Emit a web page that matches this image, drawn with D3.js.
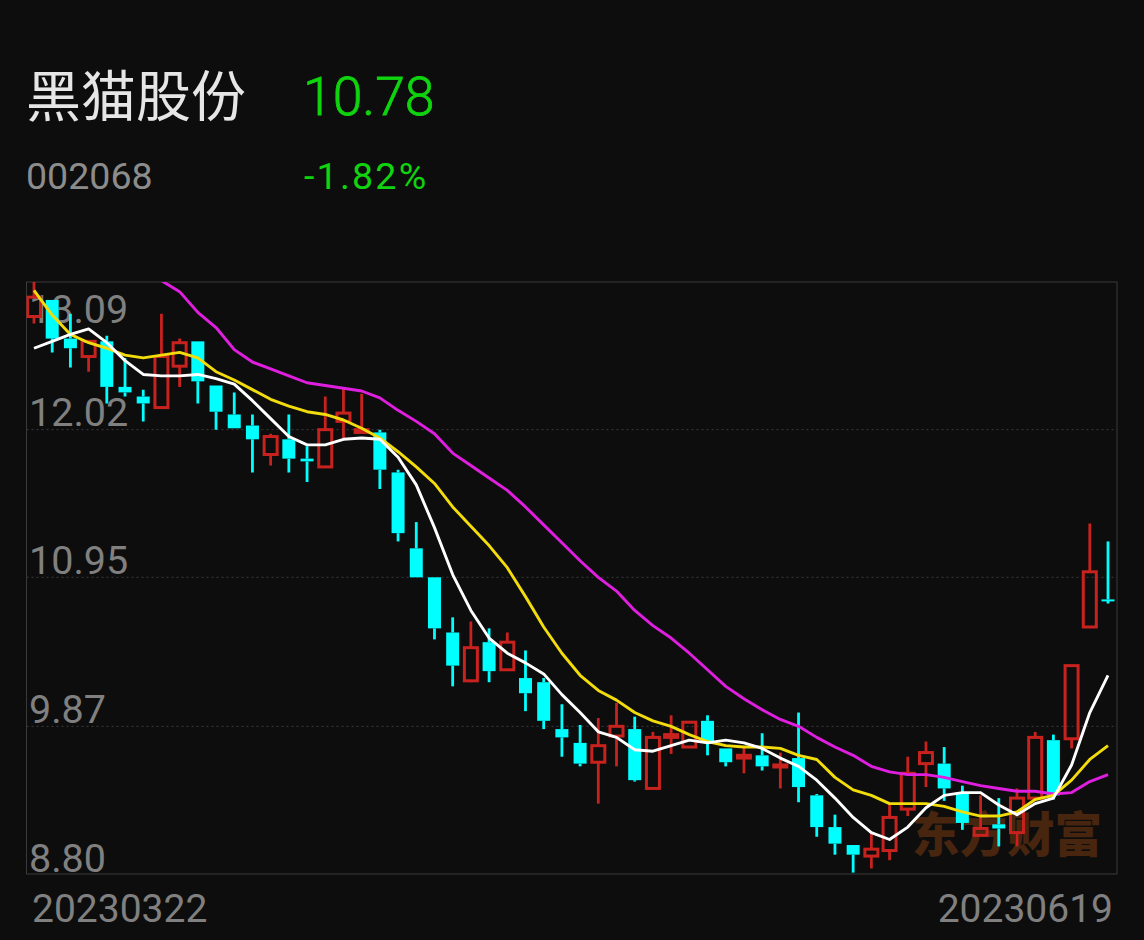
<!DOCTYPE html>
<html>
<head>
<meta charset="utf-8">
<script src="https://cdn.jsdelivr.net/npm/d3@7/dist/d3.min.js"></script>
<style>
html,body{margin:0;padding:0;background:#0d0d0d;}
svg{display:block;}
text{font-family:Roboto,"Noto Sans CJK SC",sans-serif;}
</style>
</head>
<body>
<svg id="c" width="1144" height="940"></svg>
<script>
const stockName = "黑猫股份";
const stockCode = "002068";
const lastPrice = "10.78";
const changePct = "-1.82%";
const watermark = "东方财富";
const priceTicks = [13.09, 12.02, 10.95, 9.87, 8.80];
const gridTicks = [12.02, 10.95, 9.87];
const startDate = "20230322";
const endDate = "20230619";

const open = [12.84,12.96,12.68,12.55,12.66,12.33,12.26,12.18,12.48,12.66,12.34,12.13,12.05,11.84,11.95,11.81,11.75,12.08,12.00,12.00,11.71,11.16,10.95,10.55,10.20,10.48,10.28,10.22,10.19,9.85,9.75,9.61,9.80,9.85,9.42,9.79,9.72,9.91,9.71,9.64,9.66,9.58,9.64,9.37,9.14,9.01,8.93,8.97,9.27,9.60,9.60,9.39,9.08,9.16,9.10,9.35,9.77,9.78,10.59,10.79];
const close = [12.98,12.68,12.61,12.66,12.33,12.29,12.21,12.55,12.65,12.37,12.15,12.03,11.95,11.97,11.81,11.79,12.02,12.14,12.02,11.73,11.27,10.95,10.58,10.31,10.44,10.27,10.48,10.11,9.91,9.79,9.60,9.73,9.87,9.48,9.79,9.81,9.90,9.75,9.61,9.66,9.58,9.59,9.43,9.14,9.02,8.94,8.98,9.21,9.53,9.68,9.42,9.17,9.13,9.13,9.35,9.79,9.37,10.31,10.99,10.78];
const high = [13.14,12.96,12.86,12.66,12.70,12.54,12.31,12.86,12.68,12.66,12.34,12.29,12.13,11.99,12.13,11.90,12.26,12.32,12.28,12.02,11.73,11.35,10.95,10.66,10.63,10.58,10.55,10.42,10.22,10.03,9.88,9.93,10.04,9.94,9.83,9.95,9.90,9.95,9.71,9.72,9.82,9.68,9.97,9.38,9.23,9.01,9.10,9.31,9.65,9.76,9.72,9.44,9.37,9.35,9.42,9.83,9.81,10.31,11.34,11.21];
const low = [12.79,12.58,12.47,12.44,12.21,12.26,12.08,12.18,12.33,12.21,12.02,12.03,11.71,11.76,11.71,11.64,11.75,11.96,12.00,11.59,11.21,10.95,10.50,10.16,10.19,10.19,10.28,9.98,9.85,9.65,9.58,9.31,9.58,9.47,9.42,9.67,9.72,9.66,9.58,9.53,9.55,9.42,9.32,9.07,8.94,8.81,8.84,8.90,9.22,9.43,9.33,9.12,9.08,9.00,9.00,9.35,9.34,9.71,10.59,10.76];
const ma5 = [12.61,12.66,12.71,12.75,12.65,12.52,12.42,12.41,12.41,12.42,12.39,12.35,12.23,12.10,11.97,11.91,11.91,11.95,11.96,11.95,11.82,11.62,11.31,10.97,10.71,10.51,10.40,10.33,10.25,10.10,9.97,9.83,9.79,9.70,9.69,9.73,9.77,9.75,9.77,9.75,9.71,9.64,9.58,9.48,9.35,9.21,9.10,9.05,9.14,9.28,9.37,9.39,9.39,9.30,9.23,9.31,9.35,9.59,9.97,10.24];
const ma10 = [13.03,12.85,12.71,12.65,12.61,12.56,12.54,12.56,12.58,12.54,12.44,12.38,12.31,12.24,12.19,12.15,12.13,12.09,12.03,11.96,11.86,11.75,11.63,11.46,11.32,11.18,11.02,10.81,10.59,10.40,10.24,10.13,10.06,9.97,9.91,9.87,9.81,9.76,9.73,9.72,9.72,9.71,9.66,9.63,9.50,9.41,9.37,9.31,9.31,9.31,9.29,9.25,9.22,9.22,9.25,9.34,9.37,9.48,9.63,9.73];
const ma20 = [null,null,null,null,null,null,13.19,13.10,13.02,12.87,12.76,12.60,12.51,12.46,12.41,12.36,12.34,12.32,12.30,12.25,12.16,12.08,11.99,11.85,11.76,11.67,11.58,11.46,11.33,11.20,11.07,10.95,10.85,10.71,10.60,10.51,10.40,10.28,10.16,10.07,9.99,9.92,9.87,9.79,9.72,9.66,9.58,9.54,9.52,9.52,9.50,9.47,9.44,9.42,9.40,9.40,9.38,9.39,9.47,9.52];

const RED = "#c8221f", CYAN = "#00ffff";
const frame = {l:26.5, r:1117, t:282, b:874};
const svg = d3.select("#c");

const x = d3.scalePoint().domain(d3.range(open.length)).range([34,1108]);
const y = d3.scaleLinear().domain([8.80,13.09]).range([frame.b,frame.t]);

svg.append("rect").attr("width",1144).attr("height",940).attr("fill","#0d0d0d");

svg.append("defs").append("clipPath").attr("id","plot").append("rect")
  .attr("x",frame.l).attr("y",frame.t).attr("width",frame.r-frame.l).attr("height",frame.b-frame.t);

// header
const head = svg.append("g");
head.append("text").text(stockName).attr("x",26).attr("y",116)
  .attr("font-size",55).attr("fill","#e6e6e6").style("font-family",'"Noto Sans CJK SC"');
head.append("text").text(lastPrice).attr("x",303).attr("y",115)
  .attr("font-size",53.5).attr("font-weight",300).attr("fill","#0fd40f").attr("stroke","#0fd40f").attr("stroke-width",0.8);
head.append("text").text(stockCode).attr("x",26).attr("y",189)
  .attr("font-size",37.6).attr("fill","#8c8c8c");
head.append("text").text(changePct).attr("x",304).attr("y",189)
  .attr("font-size",37.6).attr("letter-spacing",2.2).attr("fill","#0fd40f");

// frame + grid
svg.append("rect").attr("x",frame.l).attr("y",frame.t).attr("width",frame.r-frame.l).attr("height",frame.b-frame.t)
  .attr("fill","none").attr("stroke","#3a3a3a").attr("stroke-width",1);
svg.append("g").selectAll("line").data(gridTicks).join("line")
  .attr("x1",frame.l).attr("x2",frame.r).attr("y1",d=>y(d)).attr("y2",d=>y(d))
  .attr("stroke","#3c3c3c").attr("stroke-width",1).attr("stroke-dasharray","2 3");

// price labels
const axis = d3.axisRight(y).tickValues(priceTicks).tickSize(0).tickFormat(d3.format(".2f"));
const gAxis = svg.append("g").attr("transform","translate(27,0)").call(axis);
gAxis.select(".domain").remove();
gAxis.selectAll("text").attr("fill","#808080").attr("font-size",39.5).attr("x",2)
  .style("font-family","Roboto").attr("dy",null)
  .attr("y",d=> d===13.09 ? 40 : d===8.80 ? -3 : -4);

// watermark
svg.append("text").text(watermark).attr("x",1007).attr("y",852).attr("text-anchor","middle")
  .attr("font-size",47.5).attr("font-weight",900).attr("fill","#47250f")
  .style("font-family",'"Noto Sans CJK SC"');

// candles
const plot = svg.append("g").attr("clip-path","url(#plot)");
const idx = d3.range(open.length);
const up = i => close[i] >= open[i];
const wick = (from, to) => plot.append("g").selectAll("line").data(idx).join("line")
  .attr("x1",i=>x(i)).attr("x2",i=>x(i))
  .attr("y1",i=>y(from(i))).attr("y2",i=>y(to(i)))
  .attr("stroke",i=>up(i)?RED:CYAN).attr("stroke-width",2.8);
wick(i=>high[i], i=>Math.max(open[i],close[i]));
wick(i=>Math.min(open[i],close[i]), i=>low[i]);
// bodies: red hollow (see-through), cyan solid
plot.append("g").selectAll("rect").data(idx).join("rect")
  .attr("x",i=>x(i)-6.5)
  .attr("width",13)
  .attr("y",i=>y(Math.max(open[i],close[i])))
  .attr("height",i=>Math.max(2,Math.abs(y(open[i])-y(close[i]))))
  .attr("fill",i=>up(i)?"none":CYAN)
  .attr("stroke",i=>up(i)?RED:"none")
  .attr("stroke-width",3);

// moving averages
const lineGen = d3.line().defined(d=>d!=null).x((d,i)=>x(i)).y(d=>y(d));
[[ma20,"#e01ee0"],[ma10,"#f2dc0c"],[ma5,"#ffffff"]].forEach(([s,c])=>{
  plot.append("path").attr("d",lineGen(s)).attr("fill","none").attr("stroke",c)
    .attr("stroke-width",2.9).attr("stroke-linejoin","round");
});

// date labels
svg.append("text").text(startDate).attr("x",32).attr("y",922)
  .attr("font-size",39).attr("fill","#808080");
svg.append("text").text(endDate).attr("x",1113).attr("y",922).attr("text-anchor","end")
  .attr("font-size",39).attr("fill","#808080");
</script>
</body>
</html>
